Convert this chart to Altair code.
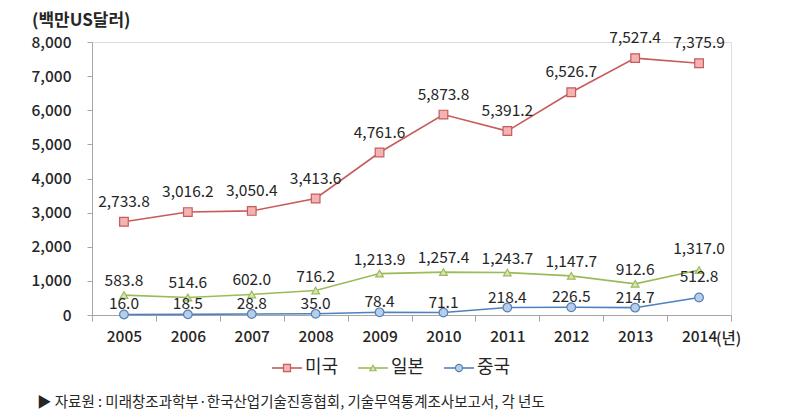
import altair as alt
import pandas as pd

years = ["2005", "2006", "2007", "2008", "2009", "2010", "2011", "2012", "2013", "2014"]
series = ["미국", "일본", "중국"]
usa = [2733.8, 3016.2, 3050.4, 3413.6, 4761.6, 5873.8, 5391.2, 6526.7, 7527.4, 7375.9]
japan = [583.8, 514.6, 602.0, 716.2, 1213.9, 1257.4, 1243.7, 1147.7, 912.6, 1317.0]
china = [16.0, 18.5, 28.8, 35.0, 78.4, 71.1, 218.4, 226.5, 214.7, 512.8]
y_ticks = [0, 1000, 2000, 3000, 4000, 5000, 6000, 7000, 8000]
y_title = "(백만US달러)"
x_unit = "(년)"
source = "▶ 자료원 : 미래창조과학부·한국산업기술진흥협회, 기술무역통계조사보고서, 각 년도"

FONT = "Noto Sans CJK KR"
TXT = "#262626"

line_colors = {"미국": "#C85A5A", "일본": "#9BBB59", "중국": "#4F81BD"}
fill_colors = {"미국": "#F2B3B3", "일본": "#D7E4BD", "중국": "#B9CDE5"}
shapes = {"미국": "square", "일본": "triangle-up", "중국": "circle"}
label_dy = {"미국": -20, "일본": -14, "중국": -10}
last_dy = {"미국": -20, "일본": -21, "중국": -21}

rows = []
for name, vals in zip(series, [usa, japan, china]):
    for yr, v in zip(years, vals):
        rows.append({"year": yr, "series": name, "value": v,
                     "label": f"{v:,.1f}"})
df = pd.DataFrame(rows)

W, H = 639, 273
xscale = alt.Scale(domain=years, paddingInner=0, paddingOuter=0)
yscale = alt.Scale(domain=[0, 8000], nice=False)

xaxis = alt.Axis(title=None, labelAngle=0, tickBand="extent",
                 labelFont=FONT, labelFontSize=15.5, labelFontWeight=500,
                 labelColor=TXT, labelPadding=8, tickSize=6,
                 domainColor="#A6A6A6", tickColor="#A6A6A6", grid=False)
yaxis = alt.Axis(title=None, values=y_ticks, format=",d", labelOverlap=False,
                 labelFont=FONT, labelFontSize=15.5, labelFontWeight=500,
                 labelColor=TXT, labelPadding=16, tickSize=5,
                 domainColor="#A6A6A6", tickColor="#A6A6A6", grid=False)


def X():
    return alt.X("year:N", scale=xscale, sort=years, axis=xaxis)


def Y():
    return alt.Y("value:Q", scale=yscale, axis=yaxis)


layers = []
for name in series:
    sub = df[df.series == name]
    base = alt.Chart(sub)
    layers.append(base.mark_line(color=line_colors[name], strokeWidth=1.6).encode(
        x=X(), y=Y()))
    layers.append(base.mark_point(shape=shapes[name], filled=True, fill=fill_colors[name],
                                  stroke=line_colors[name], strokeWidth=1.2, opacity=1,
                                  size=75 if name != "일본" else 60).encode(x=X(), y=Y()))
    layers.append(base.transform_filter(alt.datum.year != "2014").mark_text(
        font=FONT, fontSize=15.5, color=TXT, dy=label_dy[name]).encode(
        x=X(), y=Y(), text="label:N"))
    layers.append(base.transform_filter(alt.datum.year == "2014").mark_text(
        font=FONT, fontSize=15.5, color=TXT, dy=last_dy[name]).encode(
        x=X(), y=Y(), text="label:N"))

unit_df = pd.DataFrame({"year": [years[-1]], "t": [x_unit]})
layers.append(alt.Chart(unit_df).mark_text(
    font=FONT, fontSize=15.5, fontWeight=500, color=TXT, align="left", dx=17).encode(
    x=X(), y=alt.value(H + 24), text="t:N"))

title_df = pd.DataFrame({"t": [y_title]})
layers.append(alt.Chart(title_df).mark_text(
    font=FONT, fontSize=17, fontWeight="bold", color=TXT, align="left").encode(
    x=alt.value(-60), y=alt.value(-21), text="t:N"))

leg_df = pd.DataFrame({"series": series, "i": list(range(len(series)))})
leg_cx = "195 + datum.i * 86"
for name in series:
    s = leg_df[leg_df.series == name]
    b = alt.Chart(s).transform_calculate(cx=leg_cx, x1="datum.cx - 15",
                                         x2="datum.cx + 15", tx="datum.cx + 18")
    layers.append(b.mark_rule(color=line_colors[name], strokeWidth=1.6).encode(
        x=alt.X("x1:Q", scale=None), x2="x2:Q", y=alt.value(H + 53)))
    layers.append(b.mark_point(shape=shapes[name], filled=True, fill=fill_colors[name],
                               stroke=line_colors[name], strokeWidth=1.2, opacity=1,
                               size=50 if name != "일본" else 40).encode(
        x=alt.X("cx:Q", scale=None), y=alt.value(H + 53)))
    layers.append(b.mark_text(font=FONT, fontSize=18, color=TXT, align="left").encode(
        x=alt.X("tx:Q", scale=None), y=alt.value(H + 53), text="series:N"))

src_df = pd.DataFrame({"t": [source]})
layers.append(alt.Chart(src_df).mark_text(
    font=FONT, fontSize=14.5, color=TXT, align="left").encode(
    x=alt.value(-55), y=alt.value(H + 88), text="t:N"))

chart = alt.layer(*layers).properties(
    width=W, height=H,
    autosize=alt.AutoSizeParams(type="none"),
    padding={"left": 92, "top": 42, "right": 64, "bottom": 102},
).configure_view(stroke=None).configure(background="white")

chart.save("out.html", embed_options={"renderer": "svg", "actions": False})
